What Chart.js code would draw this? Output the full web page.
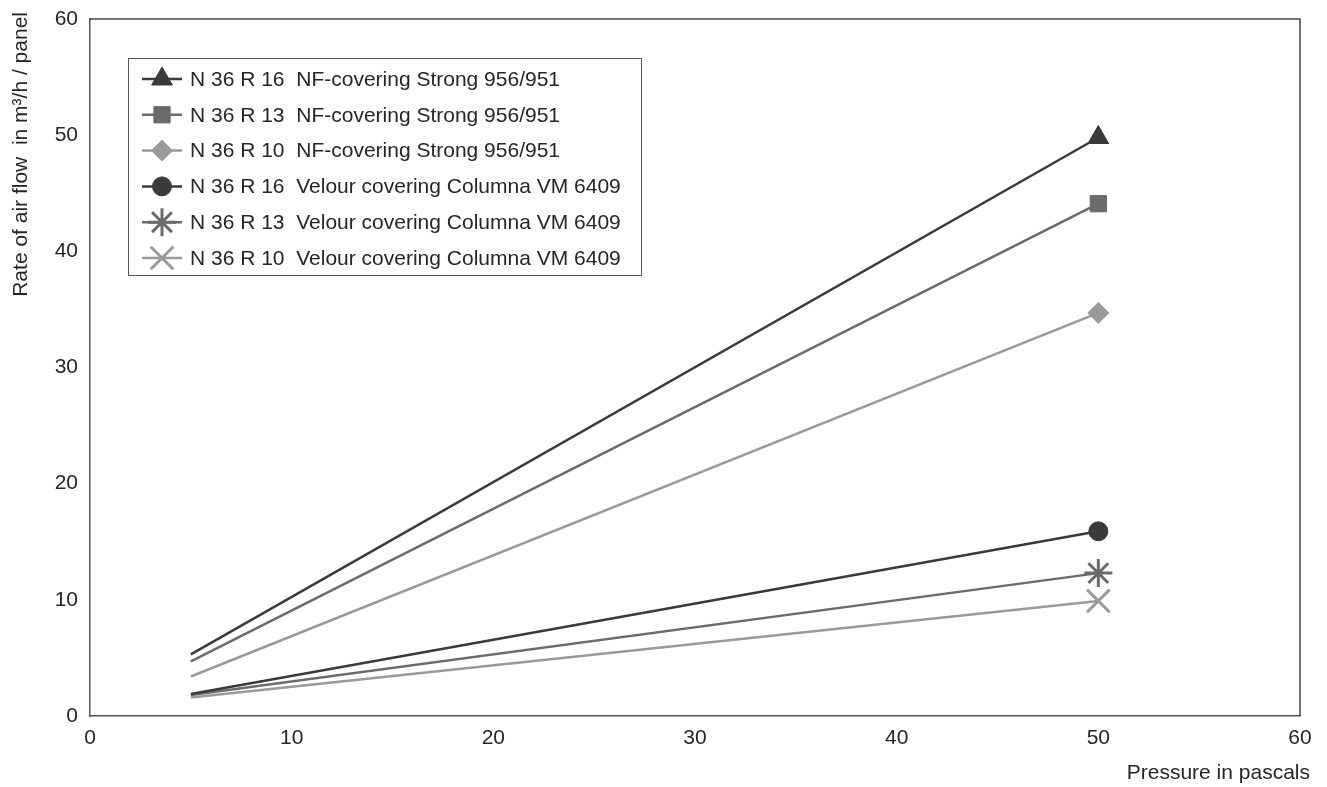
<!DOCTYPE html>
<html>
<head>
<meta charset="utf-8">
<script src="https://cdn.jsdelivr.net/npm/chart.js@4.4.1/dist/chart.umd.min.js"></script>
<style>
  html, body { margin: 0; padding: 0; background: #fff; }
  #caixa { width: 1327px; height: 787px; }
</style>
</head>
<body>
<div id="caixa"><canvas id="grafico"></canvas></div>
<script>
// Pressão (Pa) nos dois pontos medidos
const pressao = [5, 50];

// Vazão de ar por painel (m³/h)
const r16Strong = [5.3, 49.8];
const r13Strong = [4.7, 44.1];
const r10Strong = [3.4, 34.7];
const r16Velour = [1.9, 15.9];
const r13Velour = [1.8, 12.3];
const r10Velour = [1.6, 9.9];

const nomes = [
    'N 36 R 16  NF-covering Strong 956/951',
    'N 36 R 13  NF-covering Strong 956/951',
    'N 36 R 10  NF-covering Strong 956/951',
    'N 36 R 16  Velour covering Columna VM 6409',
    'N 36 R 13  Velour covering Columna VM 6409',
    'N 36 R 10  Velour covering Columna VM 6409'
];

const ticksX = [0, 10, 20, 30, 40, 50, 60];
const ticksY = [0, 10, 20, 30, 40, 50, 60];

const tituloX = 'Pressure in pascals';
const tituloY = 'Rate of air flow  in m³/h / panel';

const escuro = '#3a3a3a';
const medio = '#6b6b6b';
const claro = '#9a9a9a';
const fonte = '"Liberation Sans", Arial, sans-serif';
const corTexto = '#262626';

function serie(nome, valores, cor, estilo, raio, borda) {
    return {
        label: nome,
        data: pressao.map((p, i) => ({ x: p, y: valores[i] })),
        borderColor: cor,
        borderWidth: 2.5,
        pointStyle: estilo,
        pointRadius: [0, raio],
        pointHoverRadius: [0, raio],
        pointBackgroundColor: cor,
        pointBorderColor: cor,
        pointBorderWidth: borda,
        tension: 0
    };
}

const dados = {
    datasets: [
        serie(nomes[0], r16Strong, escuro, 'triangle', 12, 1),
        serie(nomes[1], r13Strong, medio, 'rect', 11.5, 1),
        serie(nomes[2], r10Strong, claro, 'rectRot', 10.5, 1),
        serie(nomes[3], r16Velour, escuro, 'circle', 9.5, 1),
        serie(nomes[4], r13Velour, medio, 'star', 14, 3),
        serie(nomes[5], r10Velour, claro, 'crossRot', 16, 3)
    ]
};

// Moldura, legenda e títulos dos eixos desenhados no canvas
const extras = {
    id: 'extras',
    afterDraw(chart) {
        const ctx = chart.ctx;
        const a = chart.chartArea;
        ctx.save();

        // moldura do gráfico (topo e direita)
        ctx.strokeStyle = '#444';
        ctx.lineWidth = 1.5;
        ctx.beginPath();
        ctx.moveTo(a.left, a.top);
        ctx.lineTo(a.right, a.top);
        ctx.lineTo(a.right, a.bottom);
        ctx.stroke();

        // legenda
        ctx.lineWidth = 1;
        ctx.strokeStyle = '#555';
        ctx.strokeRect(128.5, 58.5, 513, 217);
        ctx.font = '21px ' + fonte;
        ctx.textBaseline = 'middle';
        ctx.textAlign = 'left';
        chart.data.datasets.forEach((ds, i) => {
            const y = 79 + i * 35.8;
            ctx.strokeStyle = ds.borderColor;
            ctx.lineWidth = 2.5;
            ctx.beginPath();
            ctx.moveTo(142, y);
            ctx.lineTo(182, y);
            ctx.stroke();
            ctx.fillStyle = ds.pointBackgroundColor;
            ctx.strokeStyle = ds.pointBorderColor;
            ctx.lineWidth = ds.pointBorderWidth;
            Chart.helpers.drawPoint(ctx, {
                pointStyle: ds.pointStyle,
                radius: ds.pointRadius[1],
                rotation: 0,
                borderWidth: ds.pointBorderWidth
            }, 162, y);
            ctx.fillStyle = corTexto;
            ctx.fillText(ds.label, 190, y + 1);
        });

        // títulos dos eixos
        ctx.fillStyle = corTexto;
        ctx.font = '21px ' + fonte;
        ctx.textAlign = 'right';
        ctx.textBaseline = 'middle';
        ctx.fillText(tituloX, 1310, 773);
        ctx.translate(21, 12);
        ctx.rotate(-Math.PI / 2);
        ctx.fillText(tituloY, 0, 0);
        ctx.restore();
    }
};

const config = {
    type: 'line',
    data: dados,
    options: {
        responsive: true,
        maintainAspectRatio: false,
        animation: false,
        layout: { padding: { top: 13, right: 27, left: 0, bottom: 0 } },
        plugins: {
            legend: { display: false },
            tooltip: { enabled: false }
        },
        scales: {
            x: {
                type: 'linear',
                min: 0,
                max: 60,
                afterFit: (s) => { s.height = 71; s.paddingLeft = 0; s.paddingRight = 0; },
                afterBuildTicks: (s) => { s.ticks = ticksX.map(v => ({ value: v })); },
                grid: { display: false, drawTicks: false },
                border: { display: true, color: '#555', width: 1.5 },
                ticks: { color: corTexto, font: { family: fonte, size: 21 }, padding: 10, maxRotation: 0 }
            },
            y: {
                min: 0,
                max: 60,
                afterFit: (s) => { s.width = 90; s.paddingTop = 0; s.paddingBottom = 0; },
                afterBuildTicks: (s) => { s.ticks = ticksY.map(v => ({ value: v })); },
                grid: { display: false, drawTicks: false },
                border: { display: true, color: '#555', width: 1.5 },
                ticks: { color: corTexto, font: { family: fonte, size: 21 }, padding: 12 }
            }
        }
    },
    plugins: [extras]
};

const ctx = document.getElementById('grafico').getContext('2d');
const grafico = new Chart(ctx, config);
</script>
</body>
</html>
